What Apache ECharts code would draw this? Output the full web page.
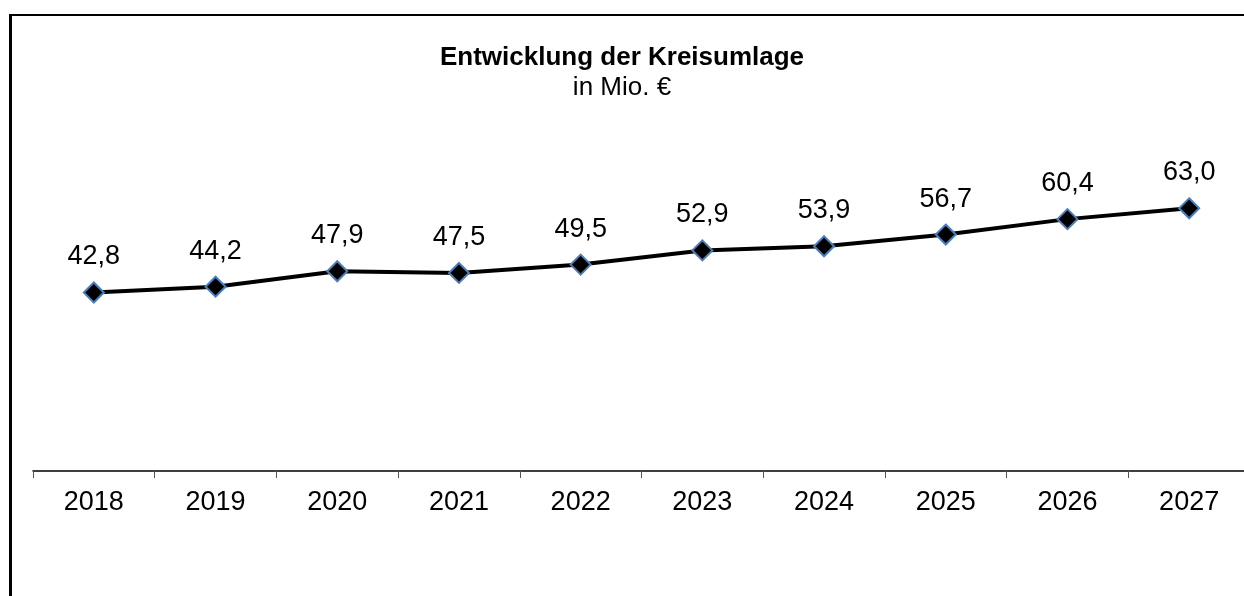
<!DOCTYPE html>
<html>
<head>
<meta charset="utf-8">
<script src="https://cdn.jsdelivr.net/npm/echarts@6/dist/echarts.min.js"></script>
<style>
  html, body { margin: 0; padding: 0; background: #fff; }
  #frame {
    position: absolute; left: 9px; top: 14px; width: 1300px; height: 700px;
    border-left: 3px solid #000; border-top: 2px solid #000; box-sizing: border-box;
  }
  #chart { position: absolute; left: 0; top: 0; width: 1244px; height: 596px; }
</style>
</head>
<body>
<div id="frame"></div>
<div id="chart"></div>
<script>
  var years = ['2018', '2019', '2020', '2021', '2022', '2023', '2024', '2025', '2026', '2027'];
  var kreisumlage = [42.8, 44.2, 47.9, 47.5, 49.5, 52.9, 53.9, 56.7, 60.4, 63.0];

  var font = '"Liberation Sans", Arial, sans-serif';
  var chart = echarts.init(document.getElementById('chart'), null, { renderer: 'canvas' });

  chart.setOption({
    animation: false,
    title: {
      text: 'Entwicklung der Kreisumlage',
      subtext: 'in Mio. €',
      left: 'center',
      top: 40,
      itemGap: 4,
      textStyle: { fontFamily: font, fontSize: 26, fontWeight: 'bold', color: '#000' },
      subtextStyle: { fontFamily: font, fontSize: 26, color: '#000' }
    },
    grid: { left: 33, top: 54, width: 1217, height: 417, outerBoundsMode: 'none' },
    xAxis: {
      type: 'category',
      data: years,
      boundaryGap: true,
      axisLine: { show: true, lineStyle: { color: '#000', width: 1.5 } },
      axisTick: { show: true, length: 7, lineStyle: { color: '#555', width: 1 } },
      axisLabel: { fontFamily: font, fontSize: 27, color: '#000', margin: 18 }
    },
    yAxis: {
      type: 'value',
      min: 0,
      max: 100,
      show: false,
      splitLine: { show: false }
    },
    series: [{
      type: 'line',
      data: kreisumlage,
      lineStyle: { color: '#000', width: 4 },
      symbol: 'diamond',
      symbolSize: 20,
      itemStyle: { color: '#000', borderColor: '#4a7ebb', borderWidth: 2 },
      label: {
        show: true,
        position: 'top',
        distance: 11,
        fontFamily: font,
        fontSize: 27,
        color: '#000',
        formatter: function (p) { return p.value.toFixed(1).replace('.', ','); }
      }
    }]
  });
</script>
</body>
</html>
